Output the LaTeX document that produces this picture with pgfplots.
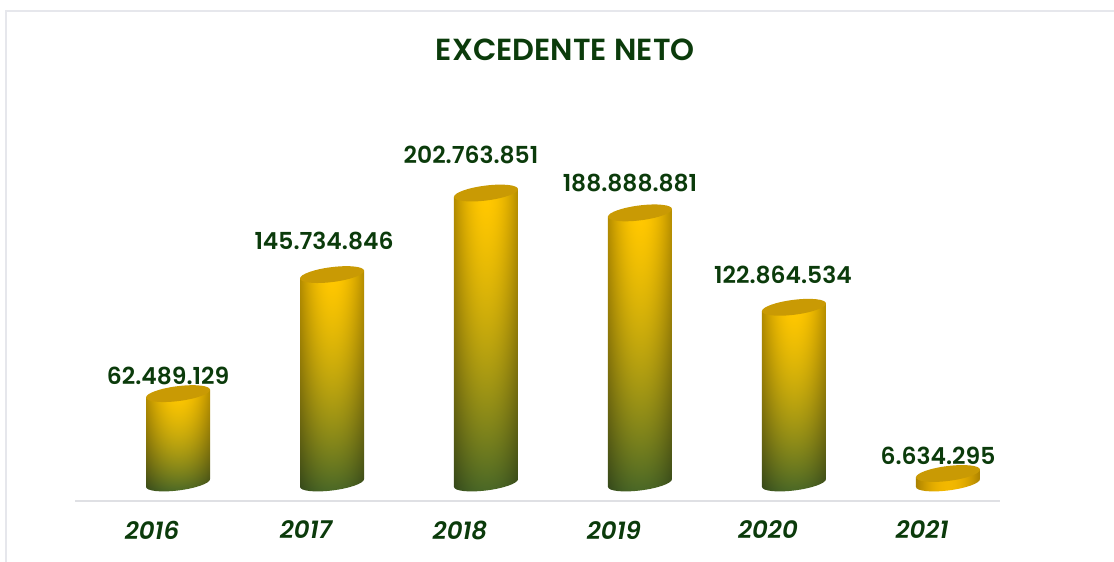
\documentclass[border=0pt]{standalone}
\usepackage{fontspec}
\setmainfont{Poppins SemiBold}[ItalicFont={Poppins SemiBold Italic}]
\usepackage{pgfplots}
\usepackage{pgfplotstable}
\pgfplotsset{compat=1.18}
\definecolor{tinta}{HTML}{0B3B0B}
\definecolor{linea}{HTML}{DFE0E4}
\definecolor{marco}{HTML}{E6E7EC}
\definecolor{tapa}{HTML}{C99A04}

% x y -> r g b: yellow on top, green at the foot, darker at both sides
% (the path's box is the inner 50bp square of the shading)
\pgfdeclarefunctionalshading{cilindro}{\pgfpoint{-50bp}{-50bp}}{\pgfpoint{50bp}{50bp}}{}{
  25 add 50 div 0.95 div
  dup 0 lt {pop 0} if dup 1 gt {pop 1} if
  dup 0.5 mul 1.5 exch sub mul
  exch 25 div dup mul 0.30 mul 1 exch sub
  exch
  dup 0.72 mul 0.28 add
  exch dup 0.38 mul 0.40 add
  exch -0.15 mul 0.15 add
  3 index mul 3 1 roll
  3 index mul 3 1 roll
  3 index mul 3 1 roll
  4 -1 roll pop
}
\pgfdeclarefunctionalshading{cilindrobajo}{\pgfpoint{-50bp}{-50bp}}{\pgfpoint{50bp}{50bp}}{}{
  pop 25 div dup mul 0.30 mul 1 exch sub
  dup 0.95 mul exch dup 0.72 mul exch 0 mul
}

\tikzset{cuerpo/.style={shading=cilindro}}
% mark sits on the centre of the top ellipse; \alto is the value in millions
\pgfdeclareplotmark{cilindro}{%
  \pgfmathsetmacro{\P}{-1.43*\alto}%
  \path[shade,cuerpo,x=1pt,y=1pt] (-32,-3.84) -- (-32,\P-3.84)
    .. controls (-32,\P-7.98) and (-17.67,\P-9.62) .. (0,\P-7.5)
    .. controls (17.67,\P-5.38) and (32,\P-0.30) .. (32,\P+3.84)
    -- (32,3.84) -- cycle;
  \path[fill=tapa,x=1pt,y=1pt] (32,3.84)
    .. controls (32,7.98) and (17.67,9.62) .. (0,7.5)
    .. controls (-17.67,5.38) and (-32,0.30) .. (-32,-3.84)
    .. controls (-32,-7.98) and (-17.67,-9.62) .. (0,-7.5)
    .. controls (17.67,-5.38) and (32,-0.30) .. (32,3.84) -- cycle;
}

\pgfplotstableread{
x valor etiqueta dx dy
0 62.489129 62.489.129 -10 18
1 145.734846 145.734.846 -8 33.6
2 202.763851 202.763.851 -15 38
3 188.888881 188.888.881 -10 30
4 122.864534 122.864.534 -11 32
}\altos
\pgfplotstableread{
x valor etiqueta dx dy
5 6.634295 6.634.295 -10 17.5
}\bajo

\begin{document}
\begin{tikzpicture}[x=1pt,y=1pt]
  \path[use as bounding box] (0,0) rectangle (1114,562);
  \draw[marco,line width=2pt] (6,0) -- (6,551) -- (1114,551);
  \begin{axis}[
    at={(75pt,61pt)},anchor=south west,
    scale only axis,width=925pt,height=371pt,
    xmin=-0.669,xmax=5.338,ymin=-12.6,ymax=246.85,
    clip=false,
    axis x line=bottom,axis y line=none,
    axis line style={draw=linea,line width=2.5pt,-},
    xtick={0,...,5},
    xticklabels={2016,2017,2018,2019,2020,2021},
    major tick length=0pt,
    xticklabel style={font=\fontsize{24.5}{24.5}\selectfont\itshape,text=tinta,
      xshift=-26pt,yshift=-29pt,anchor=center},
    title={EXCEDENTE NETO},
    title style={at={(0.53,1.199)},anchor=center,text=tinta,
      font=\fontsize{30.5}{30.5}\selectfont},
    point meta=explicit symbolic,
    nodes near coords,
    nodes near coords align={anchor=center},
    every node near coord/.style={anchor=center,text=tinta,
      font=\fontsize{23.4}{23.4}\selectfont,xshift=\dx pt,yshift=\dy pt},
    visualization depends on={rawy \as \alto},
    visualization depends on={\thisrow{dx} \as \dx},
    visualization depends on={\thisrow{dy} \as \dy},
  ]
    \addplot[only marks,mark=cilindro,draw=none] table[x=x,y=valor,meta=etiqueta] {\altos};
    \addplot[only marks,mark=cilindro,draw=none,
      mark options={cuerpo/.style={shading=cilindrobajo}}] table[x=x,y=valor,meta=etiqueta] {\bajo};
  \end{axis}
\end{tikzpicture}
\end{document}
